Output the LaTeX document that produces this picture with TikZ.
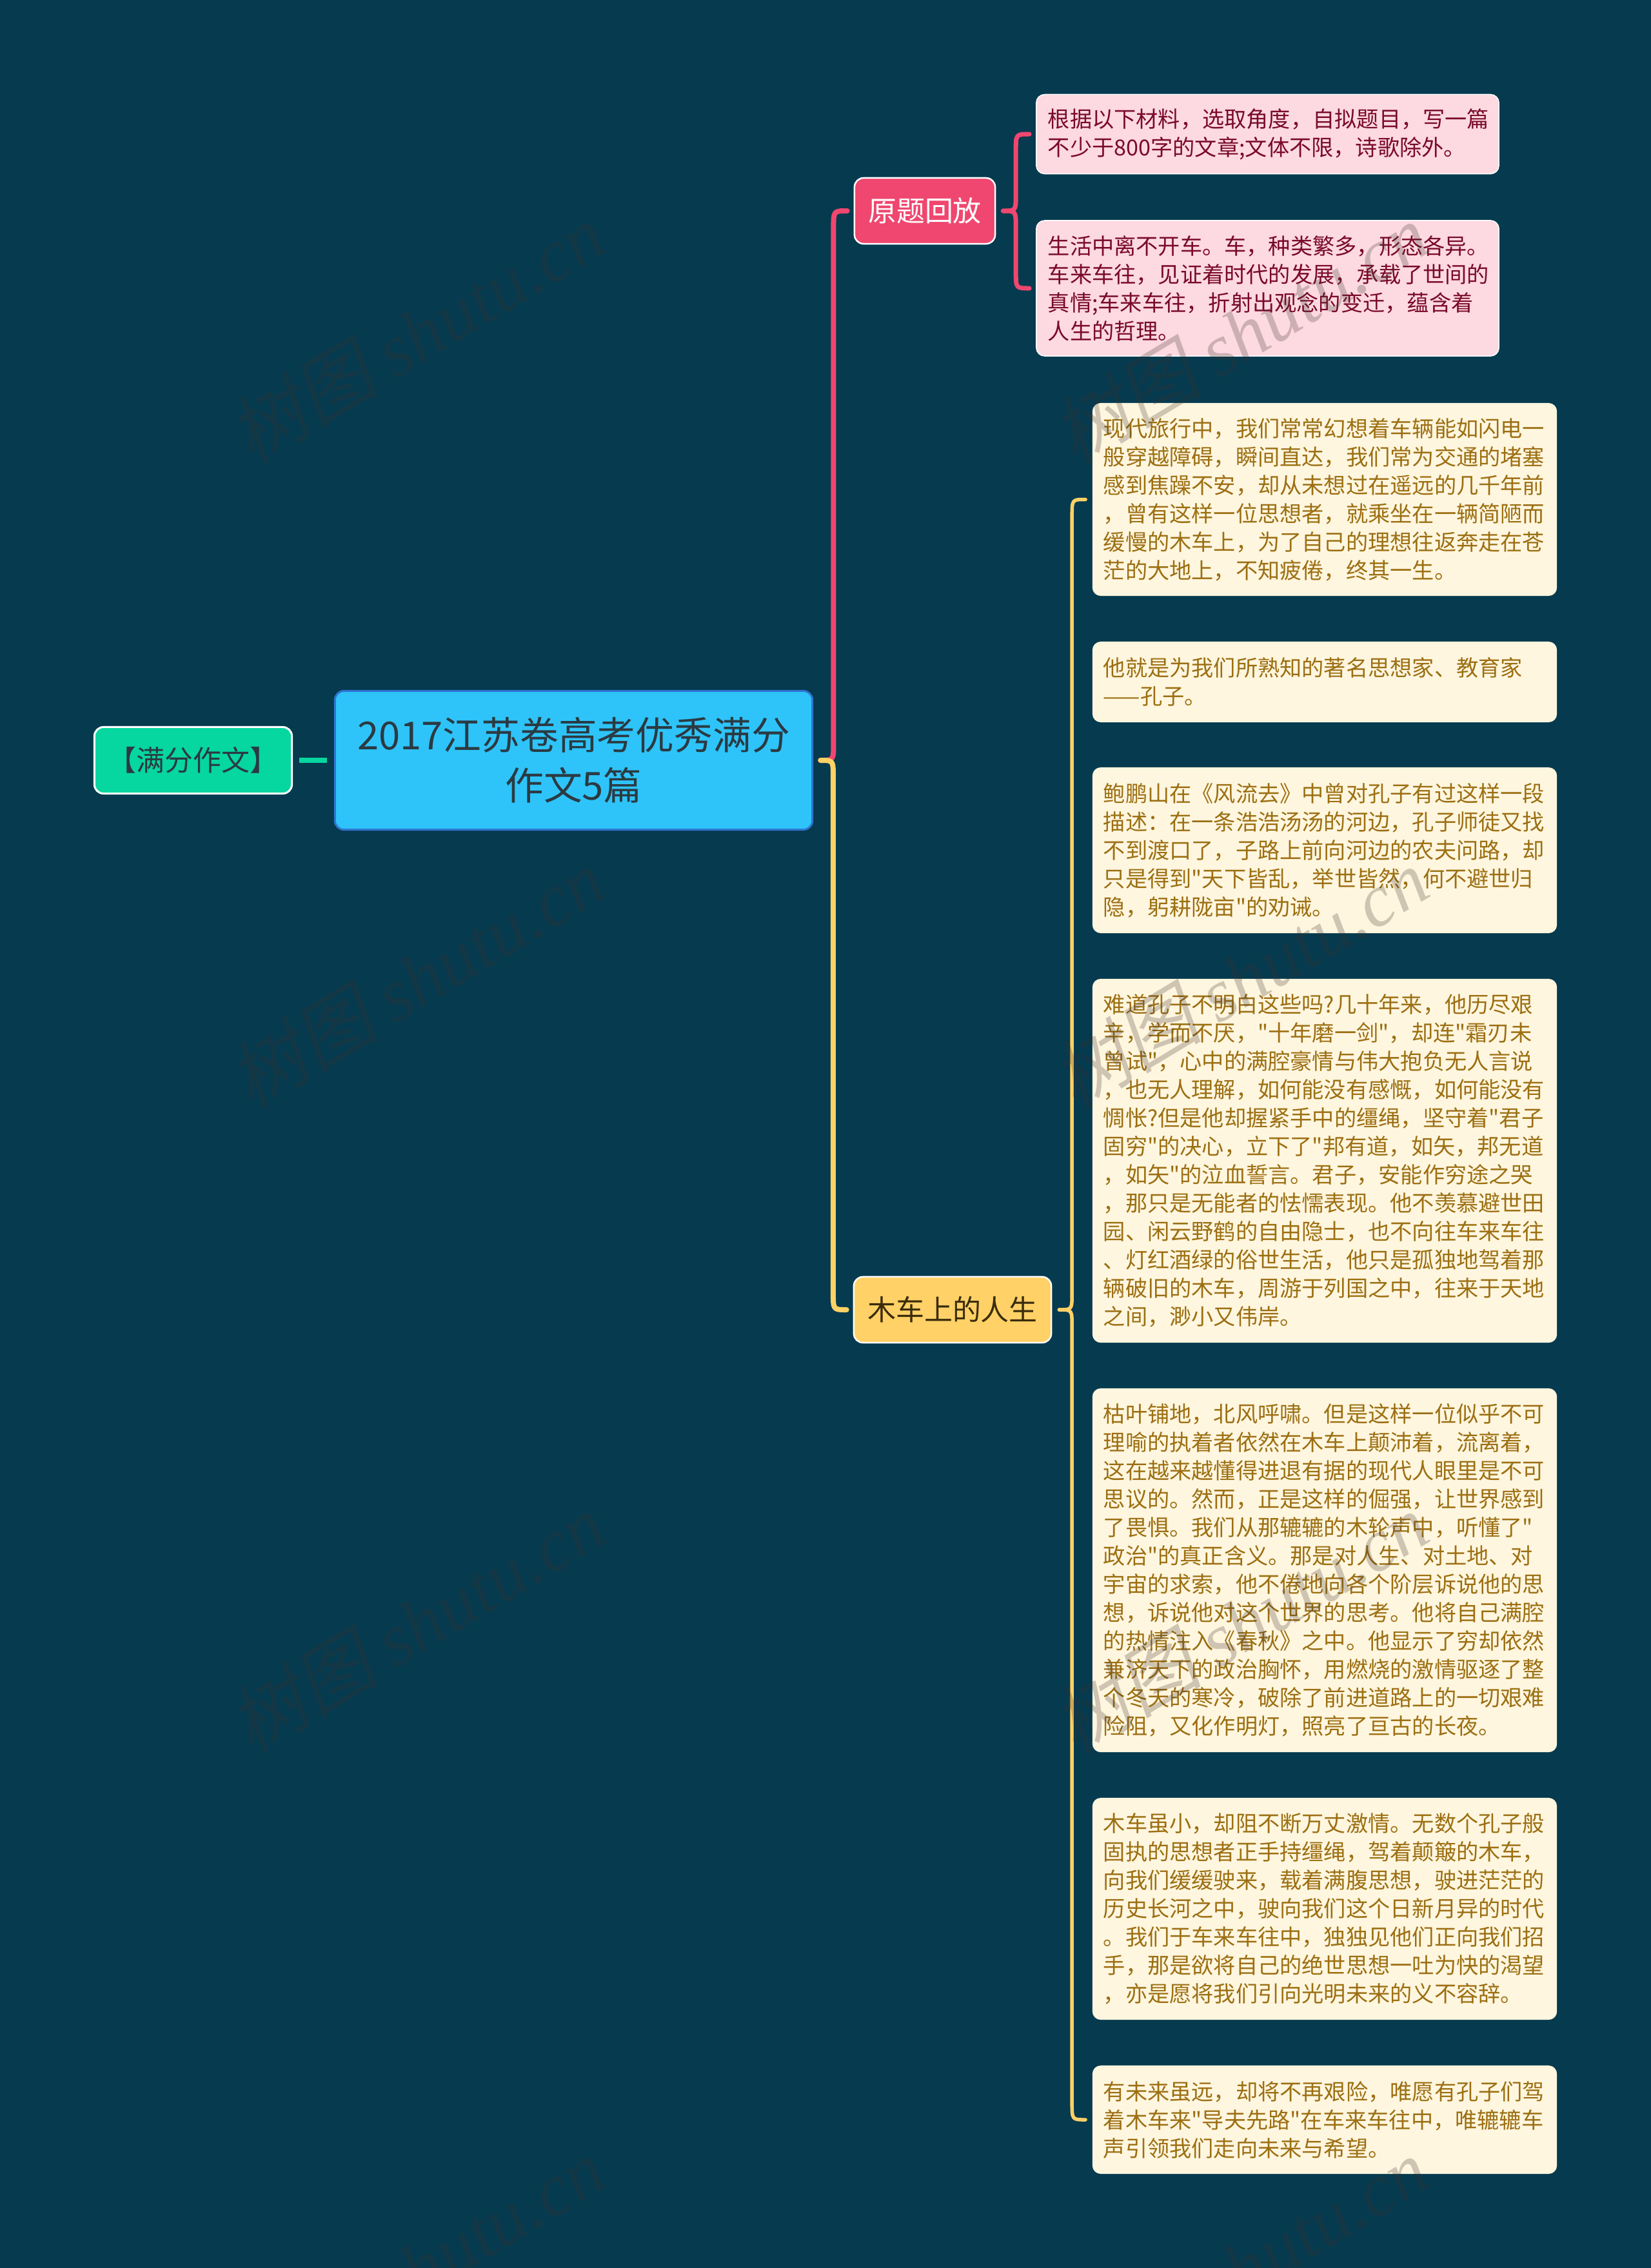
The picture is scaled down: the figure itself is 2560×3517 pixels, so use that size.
\documentclass[tikz,border=0pt]{standalone}
\usepackage{fontspec}
\setmainfont{Noto Sans CJK SC}[Ligatures=TeXOff]
\newfontfamily\markcjk[FakeSlant=0.2]{Noto Sans CJK SC}
\newfontfamily\marklatin{Liberation Serif}
\usetikzlibrary{calc}
\definecolor{pagebg}{HTML}{063A4F}
\definecolor{mainfill}{HTML}{2EC4F9}
\definecolor{mainline}{HTML}{2F74D0}
\definecolor{inkdark}{HTML}{2B3A42}
\definecolor{notefill}{HTML}{06D6A0}
\definecolor{redfill}{HTML}{EF476F}
\definecolor{goldfill}{HTML}{FFD166}
\definecolor{golddark}{HTML}{3B2C0C}
\definecolor{pinkfill}{HTML}{FDD9E2}
\definecolor{pinkink}{HTML}{7A0A2A}
\definecolor{creamfill}{HTML}{FFF6DF}
\definecolor{creamink}{HTML}{9C6F12}
\definecolor{markink}{HTML}{3C322A}
\tikzstyle{bigtext}=[font=\fontsize{17}{22.2}\selectfont]
\tikzstyle{midtext}=[font=\fontsize{12.5}{15}\selectfont]
\tikzstyle{smalltext}=[font=\fontsize{9.73}{12.52}\selectfont]
\tikzstyle{mainbox}=[rectangle,rounded corners=0.14cm,draw=mainline,line width=0.03cm,fill=mainfill,text=inkdark,bigtext,align=center,minimum width=7.40cm,minimum height=2.15cm,inner sep=0pt]
\tikzstyle{notebox}=[rectangle,rounded corners=0.14cm,draw=white,line width=0.03cm,fill=notefill,text=inkdark,midtext,minimum width=3.06cm,minimum height=1.03cm,inner sep=0pt]
\tikzstyle{branchbox}=[rectangle,rounded corners=0.14cm,draw=white,line width=0.025cm,midtext,minimum height=1.02cm,inner sep=0pt]
\tikzstyle{pinkleaf}=[rectangle,rounded corners=0.13cm,draw=white,line width=0.015cm,fill=pinkfill,text=pinkink,smalltext,align=left,text width=6.81cm,inner xsep=0.18cm,inner ysep=0pt]
\tikzstyle{creamleaf}=[rectangle,rounded corners=0.13cm,fill=creamfill,text=creamink,smalltext,align=left,text width=6.86cm,inner xsep=0.17cm,inner ysep=0pt]
\tikzstyle{markword}=[rotate=31,text=markink,text opacity=0.25,font=\fontsize{33}{33}\selectfont]
\tikzstyle{edge}=[draw,line cap=round,line join=round]

\begin{document}
\begin{tikzpicture}[x=0.01cm,y=-0.01cm]
    \useasboundingbox (0,0) rectangle (2560,3517);
    \fill[pagebg] (0,0) rectangle (2560,3517);
    % First we draw the nodes
    \node[notebox] (note) at (299.5,1179) {【满分作文】};
    \node[mainbox] (main) at (889.5,1179) {2017江苏卷高考优秀满分\\作文5篇};
    \node[branchbox,fill=redfill,text=white,minimum width=2.18cm] (origin) at (1434,327) {原题回放};
    \node[branchbox,fill=goldfill,text=golddark,minimum width=3.06cm] (cart) at (1477,2031) {木车上的人生};
    % Then the text boxes on the right
    \foreach \pos/\name/\hgt/\body in {
        {(1965.5,208)/pinkA/1.23cm/{根据以下材料，选取角度，自拟题目，写一篇\\不少于800字的文章;文体不限，诗歌除外。}},
        {(1965.5,447)/pinkB/2.10cm/{生活中离不开车。车，种类繁多，形态各异。\\车来车往，见证着时代的发展，承载了世间的\\真情;车来车往，折射出观念的变迁，蕴含着\\人生的哲理。}}}
        \node[pinkleaf,minimum height=\hgt] (\name) at \pos {\body};
    \foreach \pos/\name/\hgt/\body in {
        {(2054,774.5)/leafA/2.99cm/{现代旅行中，我们常常幻想着车辆能如闪电一\\般穿越障碍，瞬间直达，我们常为交通的堵塞\\感到焦躁不安，却从未想过在遥远的几千年前\\，曾有这样一位思想者，就乘坐在一辆简陋而\\缓慢的木车上，为了自己的理想往返奔走在苍\\茫的大地上，不知疲倦，终其一生。}},
        {(2054,1057.5)/leafB/1.25cm/{他就是为我们所熟知的著名思想家、教育家\\——孔子。}},
        {(2054,1318.5)/leafC/2.57cm/{鲍鹏山在《风流去》中曾对孔子有过这样一段\\描述：在一条浩浩汤汤的河边，孔子师徒又找\\不到渡口了，子路上前向河边的农夫问路，却\\只是得到"天下皆乱，举世皆然，何不避世归\\隐，躬耕陇亩"的劝诫。}},
        {(2054,1800)/leafD/5.64cm/{难道孔子不明白这些吗?几十年来，他历尽艰\\辛，学而不厌，"十年磨一剑"，却连"霜刃未\\曾试"，心中的满腔豪情与伟大抱负无人言说\\，也无人理解，如何能没有感慨，如何能没有\\惆怅?但是他却握紧手中的缰绳，坚守着"君子\\固穷"的决心，立下了"邦有道，如矢，邦无道\\，如矢"的泣血誓言。君子，安能作穷途之哭\\，那只是无能者的怯懦表现。他不羡慕避世田\\园、闲云野鹤的自由隐士，也不向往车来车往\\、灯红酒绿的俗世生活，他只是孤独地驾着那\\辆破旧的木车，周游于列国之中，往来于天地\\之间，渺小又伟岸。}},
        {(2054,2435)/leafE/5.64cm/{枯叶铺地，北风呼啸。但是这样一位似乎不可\\理喻的执着者依然在木车上颠沛着，流离着，\\这在越来越懂得进退有据的现代人眼里是不可\\思议的。然而，正是这样的倔强，让世界感到\\了畏惧。我们从那辘辘的木轮声中，听懂了"\\政治"的真正含义。那是对人生、对土地、对\\宇宙的求索，他不倦地向各个阶层诉说他的思\\想，诉说他对这个世界的思考。他将自己满腔\\的热情注入《春秋》之中。他显示了穷却依然\\兼济天下的政治胸怀，用燃烧的激情驱逐了整\\个冬天的寒冷，破除了前进道路上的一切艰难\\险阻，又化作明灯，照亮了亘古的长夜。}},
        {(2054,2960)/leafF/3.44cm/{木车虽小，却阻不断万丈激情。无数个孔子般\\固执的思想者正手持缰绳，驾着颠簸的木车，\\向我们缓缓驶来，载着满腹思想，驶进茫茫的\\历史长河之中，驶向我们这个日新月异的时代\\。我们于车来车往中，独独见他们正向我们招\\手，那是欲将自己的绝世思想一吐为快的渴望\\，亦是愿将我们引向光明未来的义不容辞。}},
        {(2054,3287)/leafG/1.68cm/{有未来虽远，却将不再艰险，唯愿有孔子们驾\\着木车来"导夫先路"在车来车往中，唯辘辘车\\声引领我们走向未来与希望。}}}
        \node[creamleaf,minimum height=\hgt] (\name) at \pos {\body};
    % Connect the nodes with rounded links
    \path[edge,draw=notefill,line cap=butt,line width=0.08cm,shorten <=0.1cm,shorten >=0.11cm] (note) -- (main);
    \foreach \source/\dest/\tint/\wide in {main/origin/redfill/0.08cm, main/cart/goldfill/0.08cm, origin/pinkA/redfill/0.07cm, origin/pinkB/redfill/0.07cm, cart/leafA/goldfill/0.055cm, cart/leafG/goldfill/0.055cm}
        \path[edge,draw=\tint,line width=\wide] let \p1=(\source.east), \p2=(\dest.west), \n1={0.5*(\x1+\x2)}, \n2={\y2>\y1 ? 0.26cm : -0.26cm} in
            (\x1+0.11cm,\y1) .. controls (\n1,\y1) .. (\n1,\y1+\n2) -- (\n1,\y2-\n2) .. controls (\n1,\y2) .. (\x2-0.1cm,\y2);
    % Faint marks on top of everything
    \foreach \col/\xpos in {A/646, B/1923}
        \foreach \row/\ypos in {1/517, 2/1517, 3/2517, 4/3517}
            \node[markword] (mark\col\row) at (\xpos,\ypos) {{\markcjk 树图} {\marklatin\itshape shutu.cn}};
\end{tikzpicture}
\end{document}
